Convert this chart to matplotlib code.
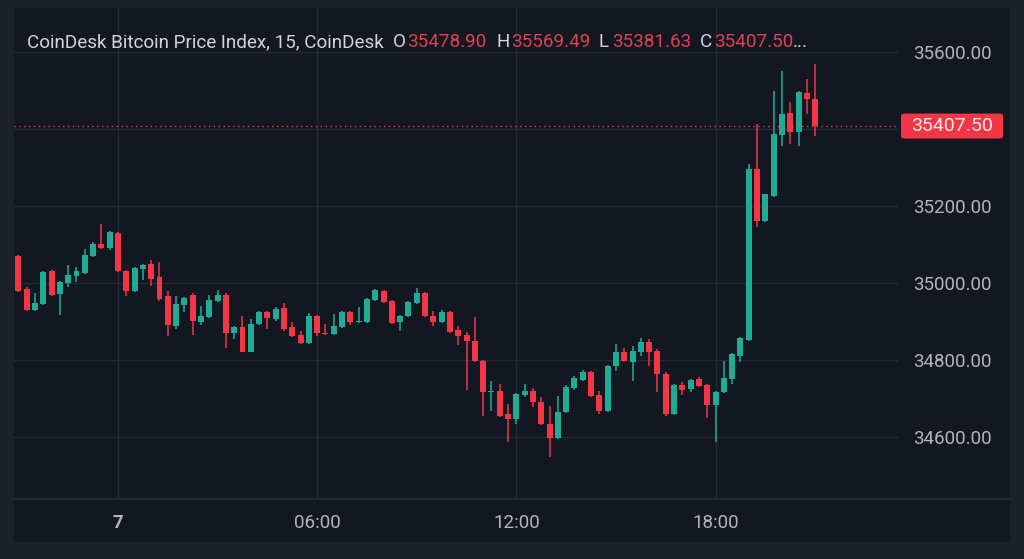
import numpy as np
import pandas as pd
import matplotlib
matplotlib.use('Agg')
import matplotlib.pyplot as plt
from matplotlib.patches import Rectangle, FancyBboxPatch

plt.rcParams['font.family'] = ['Roboto', 'DejaVu Sans']

# 15-minute candles, 6th 21:00 -> 7th 21:00
times = pd.date_range('2023-11-06 21:00', periods=97, freq='15min')

opens = [35070, 34984, 34930, 34945, 35031, 34971, 35000, 35018, 35026, 35070, 35101, 35091,
         35130, 35031, 34979, 35036, 35049, 35016, 34966, 34888, 34943, 34969, 34899, 34912,
         34953, 34969, 34870, 34886, 34821, 34894, 34925, 34907, 34935, 34886, 34865, 34844,
         34914, 34870, 34868, 34886, 34925, 34899, 34899, 34956, 34979, 34953, 34899, 34914,
         34948, 34974, 34914, 34899, 34925, 34878, 34865, 34849, 34797, 34717, 34720, 34660,
         34647, 34709, 34720, 34691, 34634, 34597, 34665, 34727, 34748, 34769, 34709, 34668,
         34784, 34821, 34795, 34821, 34847, 34823, 34764, 34660, 34735, 34725, 34751, 34735,
         34683, 34717, 34751, 34810, 34852, 35296, 35161, 35226, 35384, 35442, 35392, 35493,
         35478.90]
highs = [35073, 34990, 34974, 35031, 35034, 35005, 35047, 35042, 35088, 35106, 35153, 35135,
         35132, 35034, 35042, 35049, 35060, 35054, 34979, 34966, 34964, 34974, 34940, 34969,
         34982, 34974, 34888, 34914, 34907, 34927, 34927, 34938, 34948, 34899, 34875, 34922,
         34917, 34894, 34920, 34927, 34927, 34938, 34961, 34984, 34982, 34956, 34917, 34953,
         34987, 34977, 34927, 34930, 34927, 34888, 34873, 34912, 34800, 34745, 34738, 34686,
         34714, 34738, 34727, 34704, 34680, 34707, 34735, 34758, 34774, 34772, 34720, 34787,
         34842, 34831, 34836, 34857, 34855, 34829, 34769, 34738, 34743, 34751, 34756, 34738,
         34720, 34797, 34818, 34860, 35309, 35413, 35231, 35499, 35551, 35470, 35499, 35530,
         35569.49]
lows = [34977, 34927, 34927, 34943, 34966, 34917, 34990, 35003, 35023, 35068, 35088, 35086,
        35029, 34966, 34977, 35008, 34992, 34953, 34862, 34880, 34925, 34865, 34891, 34909,
        34951, 34831, 34855, 34821, 34821, 34891, 34880, 34901, 34875, 34860, 34842, 34842,
        34862, 34865, 34865, 34884, 34891, 34896, 34896, 34953, 34948, 34894, 34875, 34912,
        34945, 34912, 34888, 34896, 34870, 34839, 34722, 34795, 34655, 34668, 34652, 34587,
        34634, 34704, 34678, 34631, 34548, 34595, 34662, 34722, 34745, 34704, 34660, 34665,
        34772, 34795, 34745, 34810, 34784, 34717, 34655, 34657, 34709, 34717, 34730, 34649,
        34587, 34714, 34738, 34795, 34849, 35145, 35158, 35223, 35356, 35361, 35356, 35439,
        35381.63]
closes = [34979, 34930, 34948, 35029, 34969, 35003, 35021, 35031, 35073, 35101, 35091, 35132,
          35031, 34979, 35039, 35047, 35010, 34958, 34891, 34945, 34961, 34901, 34914, 34956,
          34969, 34870, 34886, 34821, 34894, 34925, 34909, 34933, 34880, 34862, 34844, 34914,
          34870, 34868, 34888, 34925, 34899, 34901, 34958, 34982, 34951, 34896, 34914, 34951,
          34974, 34914, 34899, 34925, 34873, 34862, 34849, 34797, 34717, 34720, 34655, 34647,
          34712, 34720, 34691, 34634, 34597, 34665, 34730, 34753, 34769, 34707, 34668, 34784,
          34821, 34797, 34823, 34847, 34821, 34764, 34660, 34735, 34722, 34748, 34733, 34683,
          34717, 34753, 34816, 34857, 35296, 35161, 35231, 35387, 35439, 35392, 35496, 35478.90,
          35407.50]

price_ticks = [34600, 34800, 35000, 35200, 35400, 35600]
title = 'CoinDesk Bitcoin Price Index, 15, CoinDesk'

bg_outer = '#1c202b'
bg_chart = '#131722'
grid_c = '#252a36'
text_c = '#b2b5be'
up_c = '#22ab94'
down_c = '#f23645'

W, H = 1024, 559
def fx(px):
    return px / W
def fy(py):
    return 1 - py / H

fig = plt.figure(figsize=(10.24, 5.59), dpi=100, facecolor=bg_outer)
fig.patches.append(Rectangle((fx(14), fy(542)), fx(1010) - fx(14), fy(8) - fy(542),
                             transform=fig.transFigure, facecolor=bg_chart, edgecolor='none', zorder=-5))
fig.lines.append(plt.Line2D([fx(14), fx(1010)], [fy(499), fy(499)], transform=fig.transFigure,
                            color='#2a2e39', lw=1.2, zorder=-4))

ax = fig.add_axes([fx(14), fy(499), fx(898) - fx(14), fy(8) - fy(499)])
ax.set_facecolor('none')
for s in ax.spines.values():
    s.set_visible(False)

x = np.arange(len(times)) - 12
o = np.array(opens); h = np.array(highs); l = np.array(lows); c = np.array(closes)
cols = np.where(c >= o, up_c, down_c)

ax.vlines(x, l, h, colors=cols, lw=1.1, zorder=3)
body_lo = np.minimum(o, c)
body_h = np.maximum(np.abs(c - o), 2)
ax.bar(x, body_h, bottom=body_lo, width=0.72, color=cols, zorder=4, linewidth=0)

ax.set_xlim(-12.53, 93.98)
ax.set_ylim(34439, 35714)

# grid
for p in price_ticks:
    ax.axhline(p, color=grid_c, lw=1, zorder=1)
tick_idx = [i for i, t in enumerate(times) if t.minute == 0 and t.hour % 6 == 0]
tick_x = [x[i] for i in tick_idx]
tick_lab = [str(times[i].day) if times[i].hour == 0 else times[i].strftime('%H:%M') for i in tick_idx]
for tx in tick_x:
    ax.axvline(tx, color=grid_c, lw=1, zorder=1)

ax.set_xticks(tick_x)
ax.set_xticklabels(tick_lab)
for lab, t in zip(ax.get_xticklabels(), [times[i] for i in tick_idx]):
    if t.hour == 0:
        lab.set_fontweight('bold')
        lab.set_color('#d1d4dc')
ax.tick_params(axis='x', length=0, pad=11, labelsize=13.5, labelcolor=text_c)

ax.yaxis.tick_right()
ax.set_yticks(price_ticks)
ax.set_yticklabels(['' if p == 35400 else f'{p:.2f}' for p in price_ticks])
ax.tick_params(axis='y', length=0, pad=11, labelsize=13.5, labelcolor=text_c)

# last price line + tag
last = closes[-1]
ax.axhline(last, color=down_c, lw=1, ls=(0, (1, 2.5)), zorder=2)
fig.canvas.draw()
ty = fig.transFigure.inverted().transform(ax.transData.transform((0, last)))[1]
tag = FancyBboxPatch((fx(901), ty - 12.5 / H), fx(1003) - fx(901), 25 / H,
                     boxstyle='round,pad=0,rounding_size=0.004', transform=fig.transFigure,
                     facecolor=down_c, edgecolor='none', zorder=5)
fig.patches.append(tag)
fig.text(fx(952), ty, f'{last:.2f}', color='#fde8ea', fontsize=14, ha='center', va='center', zorder=6)

# header legend
ty0 = fy(42)
fig.text(fx(27), ty0, title, color='#d1d4dc', fontsize=13.6, va='center')
ohlc = [('O', opens[-1], 393), ('H', highs[-1], 497), ('L', lows[-1], 598), ('C', closes[-1], 700)]
for k, v, px in ohlc:
    fig.text(fx(px), ty0, k, color='#d1d4dc', fontsize=13.6, va='center')
    fig.text(fx(px + 14), ty0, f'{v:.2f}', color='#e0414f', fontsize=13.6, va='center')
fig.text(fx(793), ty0, '...', color='#d1d4dc', fontsize=13.6, va='center')

fig.savefig('out.png', dpi=100, facecolor=bg_outer)
